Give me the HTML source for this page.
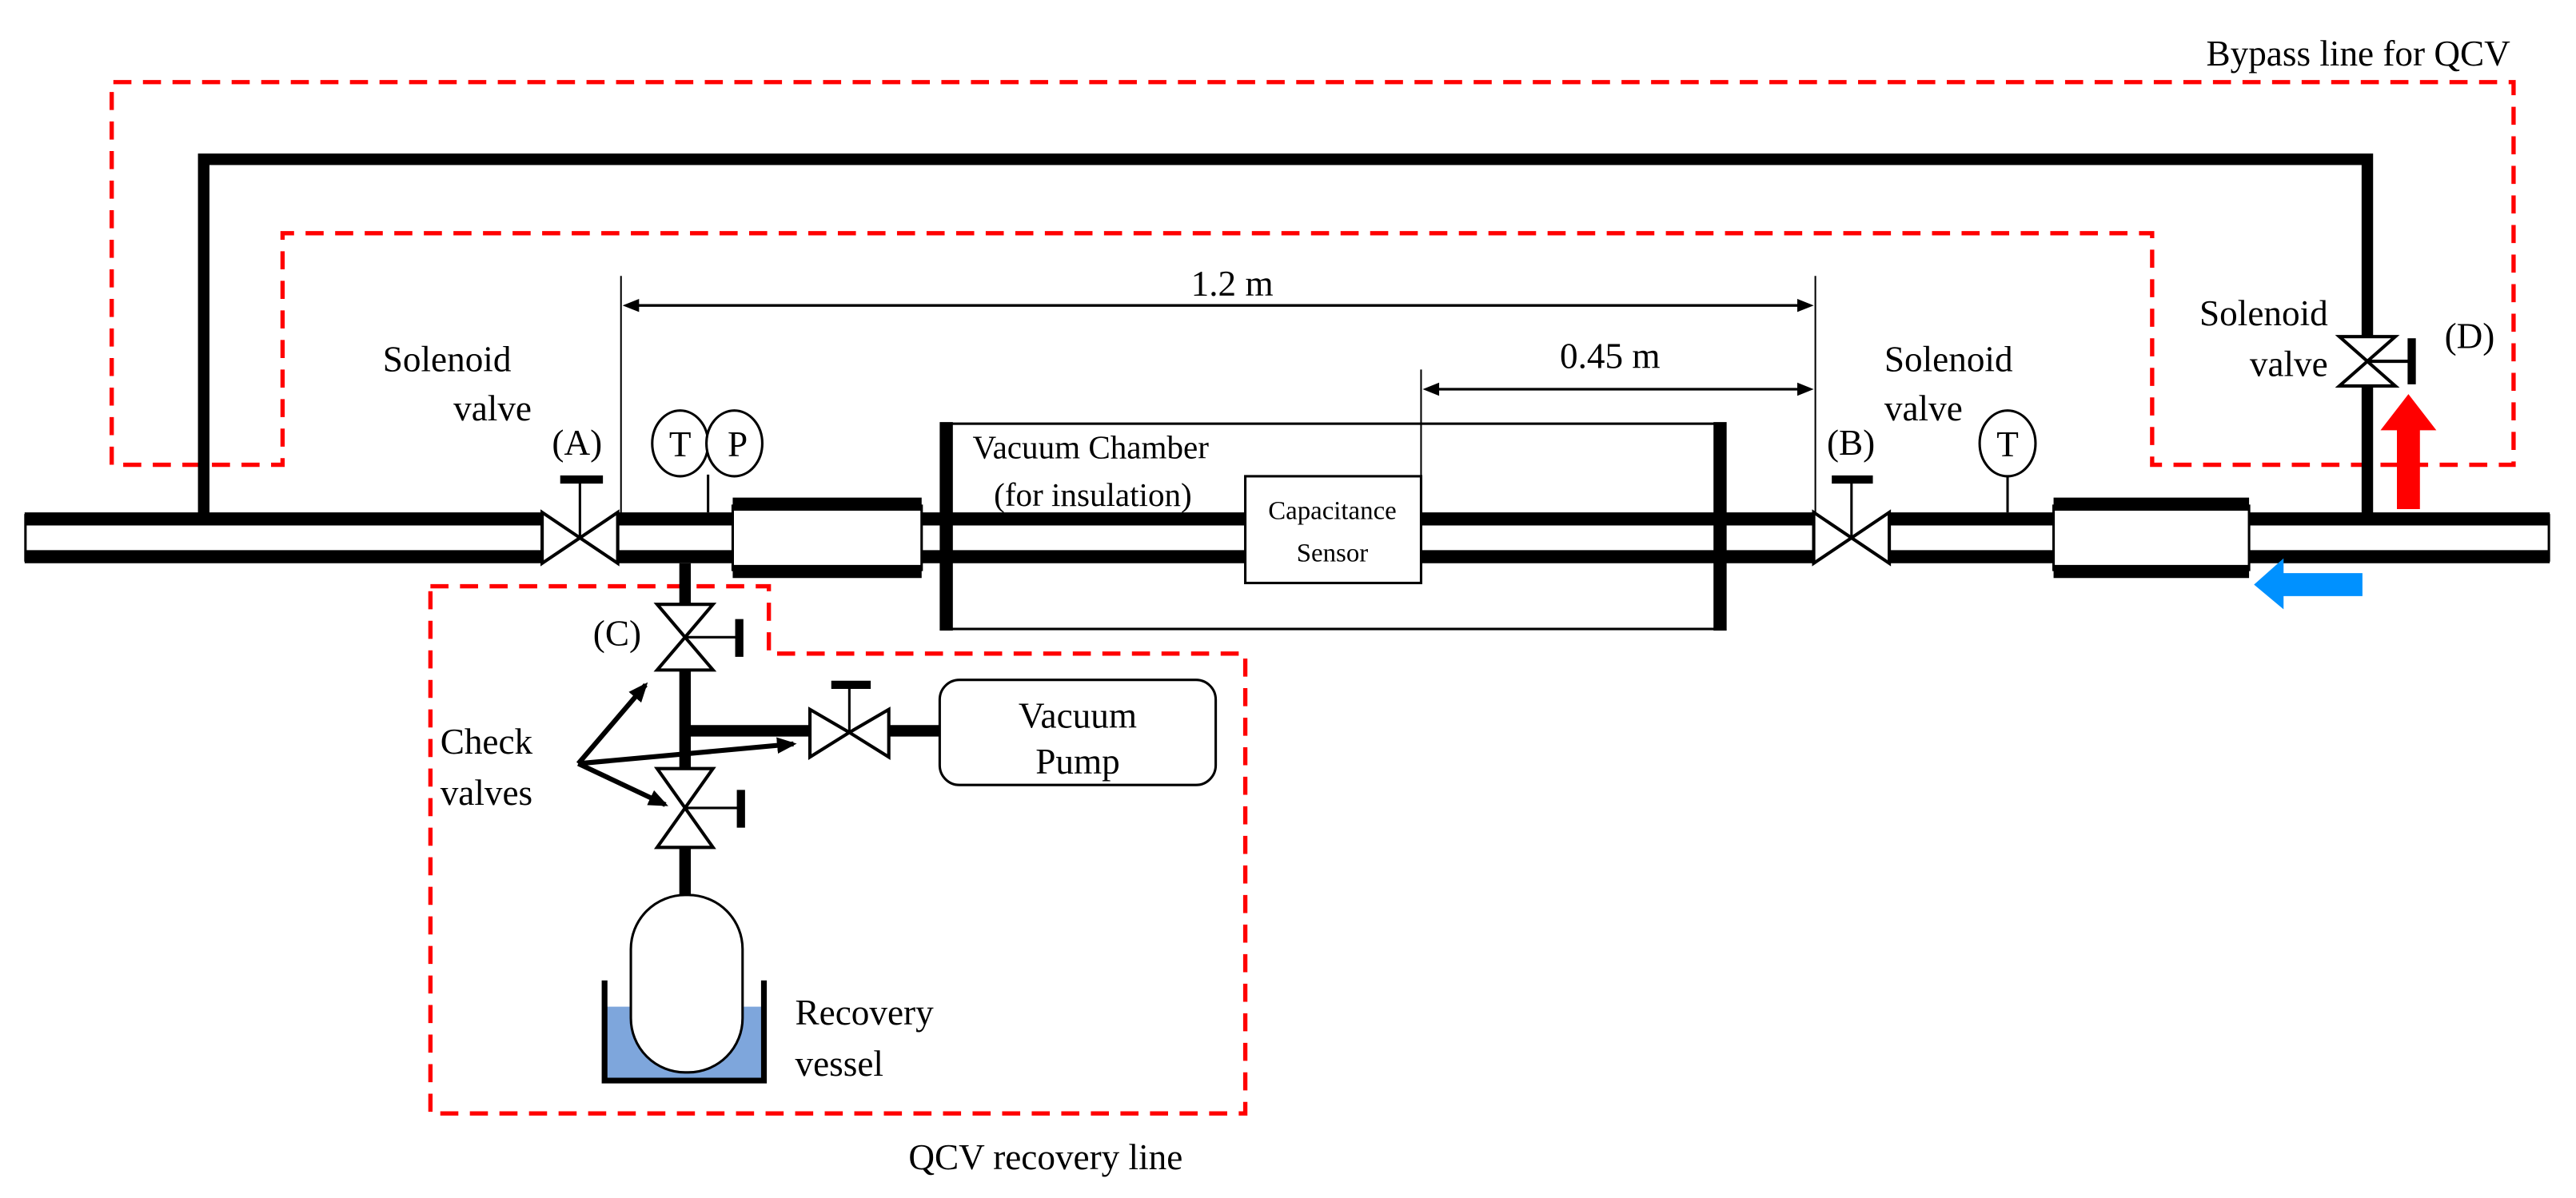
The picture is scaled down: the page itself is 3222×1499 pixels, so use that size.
<!DOCTYPE html>
<html><head><meta charset="utf-8"><style>
html,body{margin:0;padding:0;background:#fff;}
svg{display:block;font-family:"Liberation Serif","DejaVu Serif",serif;}
svg text{font-family:"Liberation Serif","DejaVu Serif",serif !important;fill:#000;}
</style></head><body>
<svg width="3222" height="1499" viewBox="0 0 1568 729.5" preserveAspectRatio="none" xmlns="http://www.w3.org/2000/svg" font-family="Liberation Serif, serif">
<defs>
<marker id="ah2" markerWidth="12" markerHeight="10" refX="10" refY="5" orient="auto" markerUnits="userSpaceOnUse"><path d="M0,0 L12,5 L0,10 z" fill="#000"/></marker>
</defs>
<path d="M68,283 L68,50 L1530,50 L1530,283 L1310,283 L1310,142 L172,142 L172,283 Z" fill="none" stroke="#f00" stroke-width="2.6" stroke-dasharray="11,7"/>
<path d="M262,357 L468,357 L468,398 L758,398 L758,678 L262,678 Z" fill="none" stroke="#f00" stroke-width="2.6" stroke-dasharray="11,7"/>
<g font-family="Liberation Serif, serif">
<text x="1528" y="40" font-size="22" text-anchor="end">Bypass line for QCV</text>
<text x="553" y="712" font-size="22">QCV recovery line</text>
</g>

<path d="M124,316 L124,97 L1441,97 L1441,205" fill="none" stroke="#000" stroke-width="7"/>
<line x1="1441" y1="235" x2="1441" y2="316" stroke="#000" stroke-width="7"/>
<path d="M1424,205 L1458,205 L1441,220 Z M1424,235 L1458,235 L1441,220 Z" fill="#fff" stroke="#000" stroke-width="2"/>
<line x1="1441" y1="220" x2="1467" y2="220" stroke="#000" stroke-width="2"/>
<line x1="1468" y1="206" x2="1468" y2="234" stroke="#000" stroke-width="5"/>
<g font-family="Liberation Serif, serif" font-size="22">
<text x="1488" y="212">(D)</text>
<text x="1417" y="198" text-anchor="end">Solenoid</text>
<text x="1417" y="229" text-anchor="end">valve</text>
</g>

<g stroke="#000" stroke-width="8">
<line x1="15" y1="316" x2="330" y2="316"/><line x1="15" y1="339" x2="330" y2="339"/>
<line x1="376" y1="316" x2="446" y2="316"/><line x1="376" y1="339" x2="446" y2="339"/>
<line x1="561" y1="316" x2="1104" y2="316"/><line x1="561" y1="339" x2="1104" y2="339"/>
<line x1="1150" y1="316" x2="1250" y2="316"/><line x1="1150" y1="339" x2="1250" y2="339"/>
<line x1="1369" y1="316" x2="1552" y2="316"/><line x1="1369" y1="339" x2="1552" y2="339"/>
</g>
<line x1="15.5" y1="313" x2="15.5" y2="342" stroke="#000" stroke-width="1.5"/>
<line x1="1551.5" y1="313" x2="1551.5" y2="342" stroke="#000" stroke-width="1.5"/>

<rect x="446" y="308" width="115" height="39" fill="#fff" stroke="#000" stroke-width="1.5"/>
<line x1="446" y1="307" x2="561" y2="307" stroke="#000" stroke-width="8"/>
<line x1="446" y1="348" x2="561" y2="348" stroke="#000" stroke-width="8"/>
<rect x="1250" y="308" width="119" height="39" fill="#fff" stroke="#000" stroke-width="1.5"/>
<line x1="1250" y1="307" x2="1369" y2="307" stroke="#000" stroke-width="8"/>
<line x1="1250" y1="348" x2="1369" y2="348" stroke="#000" stroke-width="8"/>

<rect x="576" y="258" width="471" height="125" fill="none" stroke="#000" stroke-width="1.5"/>
<line x1="576" y1="257" x2="576" y2="384" stroke="#000" stroke-width="8"/>
<line x1="1047" y1="257" x2="1047" y2="384" stroke="#000" stroke-width="8"/>
<rect x="758" y="290" width="107" height="65" fill="#fff" stroke="#000" stroke-width="1.5"/>
<g font-family="Liberation Serif, serif">
<text x="592" y="279" font-size="20">Vacuum Chamber</text>
<text x="605" y="308" font-size="20">(for insulation)</text>
<text x="811" y="316" font-size="16" text-anchor="middle">Capacitance</text>
<text x="811" y="342" font-size="16" text-anchor="middle">Sensor</text>
</g>

<line x1="378" y1="168" x2="378" y2="316" stroke="#000" stroke-width="1"/>
<line x1="1105" y1="168" x2="1105" y2="316" stroke="#000" stroke-width="1"/>
<line x1="865" y1="225" x2="865" y2="290" stroke="#000" stroke-width="1"/>
<line x1="387" y1="186" x2="1096" y2="186" stroke="#000" stroke-width="1.6"/>
<path d="M379,186 L389,182 L389,190 Z M1104,186 L1094,182 L1094,190 Z" fill="#000"/>
<line x1="874" y1="237" x2="1096" y2="237" stroke="#000" stroke-width="1.6"/>
<path d="M866,237 L876,233 L876,241 Z M1104,237 L1094,233 L1094,241 Z" fill="#000"/>
<g font-family="Liberation Serif, serif" font-size="22">
<text x="750" y="180" text-anchor="middle">1.2 m</text>
<text x="980" y="224" text-anchor="middle">0.45 m</text>
</g>

<path d="M330,312 L330,343 L353,327.5 Z M376,312 L376,343 L353,327.5 Z" fill="#fff" stroke="#000" stroke-width="2"/>
<line x1="353" y1="293" x2="353" y2="327" stroke="#000" stroke-width="1.5"/>
<line x1="341" y1="292" x2="367" y2="292" stroke="#000" stroke-width="5"/>
<path d="M1104,312 L1104,343 L1127,327.5 Z M1150,312 L1150,343 L1127,327.5 Z" fill="#fff" stroke="#000" stroke-width="2"/>
<line x1="1127" y1="293" x2="1127" y2="327" stroke="#000" stroke-width="1.5"/>
<line x1="1115" y1="292" x2="1140" y2="292" stroke="#000" stroke-width="5"/>
<g font-family="Liberation Serif, serif" font-size="22">
<text x="336" y="277">(A)</text>
<text x="233" y="226">Solenoid</text>
<text x="276" y="256">valve</text>
<text x="1112" y="277">(B)</text>
<text x="1147" y="226">Solenoid</text>
<text x="1147" y="256">valve</text>
</g>

<line x1="431" y1="289" x2="431" y2="312" stroke="#000" stroke-width="1.5"/>
<ellipse cx="414" cy="270" rx="17" ry="20" fill="#fff" stroke="#000" stroke-width="1.5"/>
<ellipse cx="447" cy="270" rx="17" ry="20" fill="#fff" stroke="#000" stroke-width="1.5"/>
<line x1="1222" y1="289" x2="1222" y2="312" stroke="#000" stroke-width="1.5"/>
<ellipse cx="1222" cy="270" rx="17" ry="20" fill="#fff" stroke="#000" stroke-width="1.5"/>
<g font-family="Liberation Serif, serif" font-size="22" text-anchor="middle">
<text x="414" y="278">T</text>
<text x="449" y="278">P</text>
<text x="1222" y="278">T</text>
</g>

<path d="M1459,310 L1473,310 L1473,262 L1483,262 L1466,240 L1449,262 L1459,262 Z" fill="#f00"/>
<path d="M1438,349 L1438,363 L1390,363 L1390,371 L1372,356 L1390,340 L1390,349 Z" fill="#0091ff"/>

<g stroke="#000" stroke-width="7">
<line x1="417" y1="343" x2="417" y2="368"/>
<line x1="417" y1="408" x2="417" y2="468"/>
<line x1="417" y1="445" x2="493" y2="445"/>
<line x1="541" y1="445" x2="572" y2="445"/>
<line x1="417" y1="516" x2="417" y2="546"/>
</g>
<path d="M400,368 L434,368 L417,388 Z M400,408 L434,408 L417,388 Z" fill="#fff" stroke="#000" stroke-width="2"/>
<line x1="417" y1="388" x2="449" y2="388" stroke="#000" stroke-width="1.5"/>
<line x1="450" y1="377" x2="450" y2="400" stroke="#000" stroke-width="5"/>
<path d="M400,468 L434,468 L417,492 Z M400,516 L434,516 L417,492 Z" fill="#fff" stroke="#000" stroke-width="2"/>
<line x1="417" y1="492" x2="450" y2="492" stroke="#000" stroke-width="1.5"/>
<line x1="451" y1="481" x2="451" y2="504" stroke="#000" stroke-width="5"/>
<path d="M493,432 L493,461 L517,446 Z M541,432 L541,461 L517,446 Z" fill="#fff" stroke="#000" stroke-width="2"/>
<line x1="517" y1="418" x2="517" y2="446" stroke="#000" stroke-width="1.5"/>
<line x1="506" y1="417" x2="530" y2="417" stroke="#000" stroke-width="5"/>
<rect x="572" y="414" width="168" height="64" rx="12" fill="#fff" stroke="#000" stroke-width="1.5"/>

<rect x="368" y="613" width="97" height="45" fill="#7ea6dc"/>
<path d="M368,597 L368,658 L465,658 L465,597" fill="none" stroke="#000" stroke-width="3.5"/>
<rect x="384" y="545" width="68" height="108" rx="33" fill="#fff" stroke="#000" stroke-width="1.5"/>

<g font-family="Liberation Serif, serif" font-size="22">
<text x="361" y="393">(C)</text>
<text x="656" y="443" text-anchor="middle">Vacuum</text>
<text x="656" y="471" text-anchor="middle">Pump</text>
<text x="484" y="624">Recovery</text>
<text x="484" y="655">vessel</text>
<text x="268" y="459">Check</text>
<text x="268" y="490">valves</text>
</g>
<g stroke="#000" stroke-width="3" fill="none">
<line x1="352" y1="465" x2="393" y2="417" marker-end="url(#ah2)"/>
<line x1="352" y1="465" x2="483" y2="453" marker-end="url(#ah2)"/>
<line x1="352" y1="465" x2="405" y2="490" marker-end="url(#ah2)"/>
</g>
</svg>
</body></html>
